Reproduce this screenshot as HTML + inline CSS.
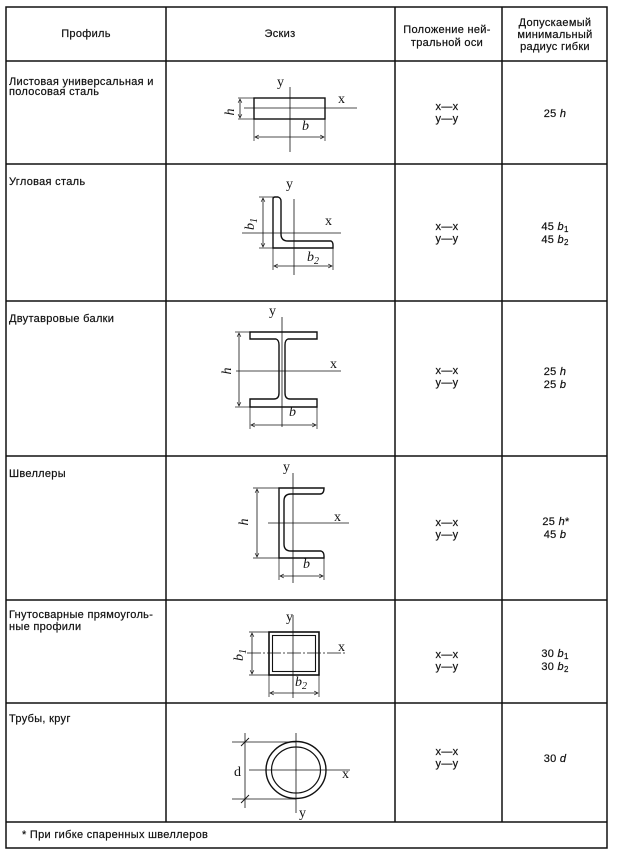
<!DOCTYPE html>
<html><head><meta charset="utf-8"><style>
html,body{margin:0;padding:0;background:#fff}
svg{display:block}
.t{font-family:"Liberation Sans",sans-serif;font-size:11px;letter-spacing:0.3px;fill:#111;stroke:#111;stroke-width:0.2}
.s{font-family:"Liberation Serif",serif;font-size:14px;fill:#111}
.si{font-family:"Liberation Serif",serif;font-size:14px;font-style:italic;fill:#111}
.vi{font-family:"Liberation Sans",sans-serif;font-style:italic}
</style></head><body>
<svg width="617" height="858" viewBox="0 0 617 858" xmlns="http://www.w3.org/2000/svg">
<defs>
<marker id="a" viewBox="0 0 10 10" refX="9" refY="5" markerWidth="6" markerHeight="6" orient="auto-start-reverse"><path d="M1,1 L9,5 L1,9" fill="none" stroke="#111" stroke-width="1.3"/></marker>
</defs>
<g stroke="#111" stroke-width="1.5" fill="none">
<rect x="6" y="7" width="601" height="841"/>
<line x1="166" y1="7" x2="166" y2="822"/>
<line x1="395" y1="7" x2="395" y2="822"/>
<line x1="502" y1="7" x2="502" y2="822"/>
<line x1="6" y1="61" x2="607" y2="61"/>
<line x1="6" y1="164" x2="607" y2="164"/>
<line x1="6" y1="301" x2="607" y2="301"/>
<line x1="6" y1="456" x2="607" y2="456"/>
<line x1="6" y1="600" x2="607" y2="600"/>
<line x1="6" y1="703" x2="607" y2="703"/>
<line x1="6" y1="822" x2="607" y2="822"/>
</g>
<g class="t">
<text x="86" y="37" text-anchor="middle">Профиль</text>
<text x="280" y="37" text-anchor="middle">Эскиз</text>
<text x="447" y="33" text-anchor="middle">Положение ней-</text>
<text x="447" y="46" text-anchor="middle">тральной оси</text>
<text x="555" y="26" text-anchor="middle">Допускаемый</text>
<text x="555" y="38" text-anchor="middle">минимальный</text>
<text x="555" y="50" text-anchor="middle">радиус гибки</text>
<text x="9" y="85">Листовая универсальная и</text>
<text x="9" y="95">полосовая сталь</text>
<text x="9" y="185">Угловая сталь</text>
<text x="9" y="322">Двутавровые балки</text>
<text x="9" y="477">Швеллеры</text>
<text x="9" y="618">Гнутосварные прямоуголь-</text>
<text x="9" y="630">ные профили</text>
<text x="9" y="722">Трубы, круг</text>
<text x="22" y="838">* При гибке спаренных швеллеров</text>
<g text-anchor="middle">
<text x="447" y="110">x—x</text><text x="447" y="122">y—y</text>
<text x="447" y="230">x—x</text><text x="447" y="242">y—y</text>
<text x="447" y="374">x—x</text><text x="447" y="386">y—y</text>
<text x="447" y="526">x—x</text><text x="447" y="538">y—y</text>
<text x="447" y="658">x—x</text><text x="447" y="670">y—y</text>
<text x="447" y="755">x—x</text><text x="447" y="767">y—y</text>
<text x="555" y="117">25 <tspan class="vi">h</tspan></text>
<text x="555" y="230">45 <tspan class="vi">b</tspan><tspan font-size="8" dy="2">1</tspan></text>
<text x="555" y="243">45 <tspan class="vi">b</tspan><tspan font-size="8" dy="2">2</tspan></text>
<text x="555" y="375">25 <tspan class="vi">h</tspan></text>
<text x="555" y="388">25 <tspan class="vi">b</tspan></text>
<text x="556" y="525">25 <tspan class="vi">h</tspan>*</text>
<text x="555" y="538">45 <tspan class="vi">b</tspan></text>
<text x="555" y="657">30 <tspan class="vi">b</tspan><tspan font-size="8" dy="2">1</tspan></text>
<text x="555" y="670">30 <tspan class="vi">b</tspan><tspan font-size="8" dy="2">2</tspan></text>
<text x="555" y="762">30 <tspan class="vi">d</tspan></text>
</g>
</g>
<g stroke="#111" fill="none">
<rect x="254" y="98" width="71" height="21" stroke-width="1.4"/>
<line x1="290" y1="87" x2="290" y2="152" stroke-width="0.8"/>
<line x1="244" y1="108" x2="357" y2="108" stroke-width="0.8"/>
<line x1="238" y1="98" x2="254" y2="98" stroke-width="0.7"/><line x1="238" y1="119" x2="254" y2="119" stroke-width="0.7"/>
<line x1="240" y1="99" x2="240" y2="118" stroke-width="0.8" marker-start="url(#a)" marker-end="url(#a)"/>
<line x1="254" y1="119" x2="254" y2="141" stroke-width="0.7"/><line x1="325" y1="119" x2="325" y2="141" stroke-width="0.7"/>
<line x1="255" y1="137" x2="324" y2="137" stroke-width="0.8" marker-start="url(#a)" marker-end="url(#a)"/>
<path d="M273,248 L273,199 Q273,197 275,197 L278,197 Q281,198 281,201 L281,234 Q281,241 288,241 L331,241 Q333,242 333,245 L333,248 Z" stroke-width="1.4"/>
<line x1="294" y1="199" x2="294" y2="275" stroke-width="0.8"/>
<line x1="242" y1="233" x2="341" y2="233" stroke-width="0.8"/>
<line x1="259" y1="197" x2="273" y2="197" stroke-width="0.7"/><line x1="259" y1="248" x2="273" y2="248" stroke-width="0.7"/>
<line x1="263" y1="198" x2="263" y2="247" stroke-width="0.8" marker-start="url(#a)" marker-end="url(#a)"/>
<line x1="273" y1="248" x2="273" y2="270" stroke-width="0.7"/><line x1="333" y1="248" x2="333" y2="270" stroke-width="0.7"/>
<line x1="274" y1="266" x2="332" y2="266" stroke-width="0.8" marker-start="url(#a)" marker-end="url(#a)"/>
<path d="M250,332 L317,332 L317,339 L288,339 Q285,340 285,345 L285,393 Q285,399 290,399 L317,399 L317,407 L250,407 L250,399 L274,399 Q279,399 279,393 L279,345 Q279,340 276,339 L250,339 Z" stroke-width="1.4"/>
<line x1="282" y1="317" x2="282" y2="427" stroke-width="0.8"/>
<line x1="236" y1="371" x2="341" y2="371" stroke-width="0.8"/>
<line x1="235" y1="332" x2="250" y2="332" stroke-width="0.7"/><line x1="235" y1="407" x2="250" y2="407" stroke-width="0.7"/>
<line x1="239" y1="333" x2="239" y2="406" stroke-width="0.8" marker-start="url(#a)" marker-end="url(#a)"/>
<line x1="250" y1="407" x2="250" y2="429" stroke-width="0.7"/><line x1="317" y1="407" x2="317" y2="429" stroke-width="0.7"/>
<line x1="251" y1="425" x2="316" y2="425" stroke-width="0.8" marker-start="url(#a)" marker-end="url(#a)"/>
<path d="M279,488 L324,488 Q324,494 320,494 L291,494 Q284,494 284,501 L284,544 Q284,551 291,551 L321,551 Q324,552 324,556 L324,558 L279,558 Z" stroke-width="1.4"/>
<line x1="293" y1="473" x2="293" y2="583" stroke-width="0.8"/>
<line x1="268" y1="523" x2="349" y2="523" stroke-width="0.8"/>
<line x1="253" y1="488" x2="279" y2="488" stroke-width="0.7"/><line x1="253" y1="558" x2="279" y2="558" stroke-width="0.7"/>
<line x1="257" y1="489" x2="257" y2="557" stroke-width="0.8" marker-start="url(#a)" marker-end="url(#a)"/>
<line x1="279" y1="558" x2="279" y2="580" stroke-width="0.7"/><line x1="324" y1="558" x2="324" y2="580" stroke-width="0.7"/>
<line x1="280" y1="576" x2="323" y2="576" stroke-width="0.8" marker-start="url(#a)" marker-end="url(#a)"/>
<rect x="269" y="632" width="50" height="43" stroke-width="1.6"/>
<rect x="272.5" y="635.5" width="43" height="36" stroke-width="1.1"/>
<line x1="293" y1="615" x2="293" y2="698" stroke-width="0.8"/>
<line x1="247" y1="653" x2="347" y2="653" stroke-width="0.8" stroke-dasharray="14 2 2 2"/>
<line x1="249" y1="632" x2="269" y2="632" stroke-width="0.7"/><line x1="249" y1="675" x2="269" y2="675" stroke-width="0.7"/>
<line x1="252" y1="633" x2="252" y2="674" stroke-width="0.8" marker-start="url(#a)" marker-end="url(#a)"/>
<line x1="269" y1="675" x2="269" y2="697" stroke-width="0.7"/><line x1="319" y1="675" x2="319" y2="697" stroke-width="0.7"/>
<line x1="270" y1="693" x2="318" y2="693" stroke-width="0.8" marker-start="url(#a)" marker-end="url(#a)"/>
<ellipse cx="296" cy="770" rx="30" ry="28.5" stroke-width="1.4"/>
<ellipse cx="296" cy="770" rx="24.5" ry="23" stroke-width="1.2"/>
<line x1="249" y1="770" x2="350" y2="770" stroke-width="0.8"/>
<line x1="296" y1="733" x2="296" y2="813" stroke-width="0.8"/>
<line x1="232" y1="742" x2="296" y2="742" stroke-width="0.7"/><line x1="232" y1="799" x2="296" y2="799" stroke-width="0.7"/>
<line x1="245" y1="733" x2="245" y2="808" stroke-width="0.8"/>
<line x1="241" y1="746" x2="249" y2="738" stroke-width="0.9"/><line x1="241" y1="803" x2="249" y2="795" stroke-width="0.9"/>
</g>
<g class="s">
<text x="277" y="86">y</text><text x="338" y="103">x</text>
<text x="286" y="188">y</text><text x="325" y="225">x</text>
<text x="269" y="315">y</text><text x="330" y="368">x</text>
<text x="283" y="471">y</text><text x="334" y="521">x</text>
<text x="286" y="621">y</text><text x="338" y="651">x</text>
<text x="234" y="776">d</text><text x="342" y="778">x</text><text x="299" y="817">y</text>
</g>
<g class="si">
<text x="302" y="130">b</text>
<text transform="translate(234,112) rotate(-90)" text-anchor="middle">h</text>
<text x="307" y="261">b<tspan font-size="10" dy="3">2</tspan></text>
<text transform="translate(254,224) rotate(-90)" text-anchor="middle">b<tspan font-size="10" dy="3">1</tspan></text>
<text x="289" y="416">b</text>
<text transform="translate(231,371) rotate(-90)" text-anchor="middle">h</text>
<text x="303" y="568">b</text>
<text transform="translate(248,522) rotate(-90)" text-anchor="middle">h</text>
<text x="295" y="686">b<tspan font-size="10" dy="3">2</tspan></text>
<text transform="translate(243,655) rotate(-90)" text-anchor="middle">b<tspan font-size="10" dy="3">1</tspan></text>
</g>
</svg>
</body></html>
